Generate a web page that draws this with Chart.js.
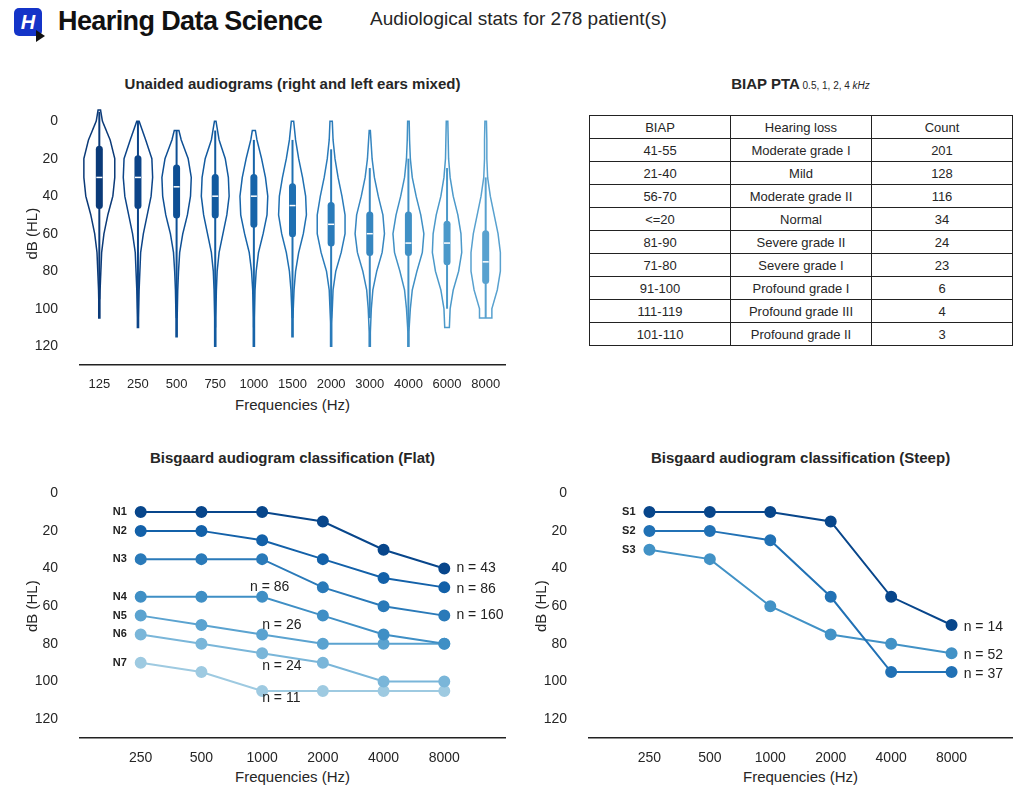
<!DOCTYPE html>
<html><head><meta charset="utf-8">
<script src="https://cdn.jsdelivr.net/npm/chart.js@4"></script>
<style>
body{margin:0;background:#fff;font-family:"Liberation Sans",Arial,sans-serif;color:#262626;}
.abs{position:absolute;}
.ttl{font-weight:bold;font-size:15px;text-align:center;}
.xt{font-size:15px;text-align:center;}
table{border-collapse:collapse;font-size:13px;table-layout:fixed;}
td{border:1px solid #222;text-align:center;height:22px;padding:0;}
</style></head><body>
<div class="abs" style="left:14px;top:8px;width:28px;height:28px;background:#1434c8;border-radius:5px;color:#fff;font-weight:900;font-size:20px;text-align:center;line-height:28px;font-style:italic">H</div>
<div class="abs" style="left:36px;top:30px;width:0;height:0;border-left:9px solid #111;border-top:6px solid transparent;border-bottom:6px solid transparent"></div>
<div class="abs" style="left:58px;top:6px;font-size:27px;font-weight:900;letter-spacing:-0.6px;color:#111">Hearing Data Science</div>
<div class="abs" style="left:370px;top:8px;font-size:19px">Audiological stats for 278 patient(s)</div>

<div class="abs ttl" style="left:80px;width:425px;top:75px">Unaided audiograms (right and left ears mixed)</div>
<div class="abs ttl" style="left:589px;width:423px;top:75px">BIAP PTA<span style="font-weight:normal;font-size:10px"> 0.5, 1, 2, 4 <i>kHz</i></span></div>
<div class="abs ttl" style="left:80px;width:425px;top:449px">Bisgaard audiogram classification (Flat)</div>
<div class="abs ttl" style="left:589px;width:423px;top:449px">Bisgaard audiogram classification (Steep)</div>
<div class="abs xt" style="left:80px;width:425px;top:396px">Frequencies (Hz)</div>
<div class="abs xt" style="left:80px;width:425px;top:768px">Frequencies (Hz)</div>
<div class="abs xt" style="left:589px;width:423px;top:768px">Frequencies (Hz)</div>

<table class="abs" id="tbl" style="left:589px;top:115px;width:424px"></table>

<div class="abs" style="left:20px;top:80px;width:495px;height:329px"><canvas id="c1"></canvas></div>
<div class="abs" style="left:20px;top:452px;width:495px;height:330px"><canvas id="c2"></canvas></div>
<div class="abs" style="left:529px;top:452px;width:493px;height:330px"><canvas id="c3"></canvas></div>
<script>
// ---- violin data
const freqs = ['125','250','500','750','1000','1500','2000','3000','4000','6000','8000'];
const vTop = [-6,0,5,0,5,0,0,5,0,0,0];
const vBottom = [105,110,115,120,120,115,120,120,120,110,105];
const wLow = [-5,0,5,5,10,10,15,25,20,25,30];
const wHigh = [95,100,105,110,110,105,105,105,110,100,105];
const q1 = [15,20,25,30,30,35,45,50,50,55,60];
const med = [30,30,35,40,40,45,55,60,65,65,75];
const q3 = [45,45,50,50,55,60,65,70,70,75,85];
const levels = [-10,0,10,20,30,40,50,60,70,80,90,100,110,120];
const dens = [
 [0,.08,.28,.40,.40,.35,.22,.12,.06,.04,.02,.01,0,0],
 [0,.03,.2,.36,.38,.34,.24,.14,.07,.05,.03,.02,.01,0],
 [0,0,.12,.30,.38,.36,.28,.16,.08,.05,.03,.02,.01,0],
 [0,.02,.10,.26,.34,.36,.30,.20,.10,.05,.03,.02,.01,0],
 [0,0,.08,.2,.3,.36,.34,.24,.12,.06,.03,.02,.01,0],
 [0,.03,.08,.16,.26,.34,.36,.28,.16,.08,.04,.02,.01,0],
 [0,.03,.05,.10,.18,.28,.36,.36,.26,.12,.05,.03,.01,0],
 [0,0,.03,.06,.12,.22,.34,.38,.32,.18,.08,.04,.02,0],
 [0,.02,.03,.05,.10,.20,.32,.40,.36,.22,.10,.05,.02,0],
 [0,.02,.03,.04,.08,.16,.28,.36,.38,.30,.16,.08,.06,0],
 [0,.02,.03,.03,.05,.12,.22,.32,.38,.38,.30,.16,.16,0]
];
const vColors = ['#0b3a78','#0c4488','#0e4f94','#125a9f','#1764a9','#1f70b2','#2a7bba','#3686c0','#4090c5','#4b99ca','#58a1cf'];
const yTicks = [0,20,40,60,80,100,120];

// ---- BIAP table
const biap = ['41-55','21-40','56-70','<=20','81-90','71-80','91-100','111-119','101-110'];
const loss = ['Moderate grade I','Mild','Moderate grade II','Normal','Severe grade II','Severe grade I','Profound grade I','Profound grade III','Profound grade II'];
const counts = [201,128,116,34,24,23,6,4,3];

// ---- Bisgaard
const bFreqs = ['250','500','1000','2000','4000','8000'];
const flatNames = ['N1','N2','N3','N4','N5','N6','N7'];
const flat = [
 [10,10,10,15,30,40],[20,20,25,35,45,50],[35,35,35,50,60,65],[55,55,55,65,75,80],
 [65,70,75,80,80,80],[75,80,85,90,100,100],[90,95,105,105,105,105]];
const flatColors = ['#08468b','#1361a9','#2a7ab9','#3f8fc5','#5ba3d0','#7ab6d9','#9ecae1'];
const flatN = ['n = 43','n = 86','n = 160','n = 86','n = 26','n = 24','n = 11'];
const flatNPos = [[5.2,40],[5.2,51],[5.2,65],[1.8,50],[2,70],[2,92],[2,109]];
const steepNames = ['S1','S2','S3'];
const steep = [[10,10,10,15,55,70],[20,20,25,55,95,95],[30,35,60,75,80,85]];
const steepColors = ['#08468b','#2171b5','#4292c6'];
const steepN = ['n = 14','n = 37','n = 52'];
const steepNPos = [[5.2,71],[5.2,96],[5.2,86]];

let tb = '<tr><td>BIAP</td><td>Hearing loss</td><td>Count</td></tr>';
biap.forEach((b,i)=>{ tb += '<tr><td>'+b.replace('<','&lt;')+'</td><td>'+loss[i]+'</td><td>'+counts[i]+'</td></tr>'; });
document.getElementById('tbl').innerHTML = tb;

Chart.defaults.font.family = '"Liberation Sans", Arial, sans-serif';
Chart.defaults.color = '#262626';
Chart.defaults.animation = false;

function yAxis(){
  return {reverse:true,min:-10,max:130,grid:{display:false},border:{display:false},
    afterBuildTicks:s=>{ s.ticks = yTicks.map(v=>({value:v})); },
    ticks:{font:{size:14},padding:14},
    title:{display:true,text:'dB (HL)',font:{size:15}},
    afterFit:s=>{s.width=60;}};
}

const violinPlugin = {
  id:'violin',
  afterDatasetsDraw(chart){
    const ctx = chart.ctx, xs = chart.scales.x, ys = chart.scales.y;
    const cw = xs.getPixelForValue(1) - xs.getPixelForValue(0);
    freqs.forEach((f,i)=>{
      const cx = xs.getPixelForValue(i);
      const pts = [];
      for(let d=vTop[i]; d<=vBottom[i]; d+=1){
        let k = Math.min(levels.length-2, Math.max(0, Math.floor((d+10)/10)));
        const t = (d-levels[k])/10;
        const w = (dens[i][k]*(1-t)+dens[i][k+1]*t);
        pts.push([d, Math.max(w,0.015)*cw]);
      }
      ctx.save();
      ctx.strokeStyle = vColors[i]; ctx.lineWidth = 1.5;
      ctx.beginPath();
      pts.forEach((p,j)=>{ const y=ys.getPixelForValue(p[0]); j?ctx.lineTo(cx+p[1],y):ctx.moveTo(cx+p[1],y); });
      for(let j=pts.length-1;j>=0;j--) ctx.lineTo(cx-pts[j][1], ys.getPixelForValue(pts[j][0]));
      ctx.closePath(); ctx.stroke();
      ctx.lineWidth = 2; ctx.beginPath();
      ctx.moveTo(cx, ys.getPixelForValue(wLow[i])); ctx.lineTo(cx, ys.getPixelForValue(wHigh[i])); ctx.stroke();
      ctx.lineWidth = 7; ctx.lineCap='round'; ctx.beginPath();
      ctx.moveTo(cx, ys.getPixelForValue(q1[i])); ctx.lineTo(cx, ys.getPixelForValue(q3[i])); ctx.stroke();
      ctx.strokeStyle='#fff'; ctx.lineWidth=1.5; ctx.lineCap='butt'; ctx.beginPath();
      ctx.moveTo(cx-3, ys.getPixelForValue(med[i])); ctx.lineTo(cx+3, ys.getPixelForValue(med[i])); ctx.stroke();
      ctx.restore();
    });
  }
};

new Chart(document.getElementById('c1'), {
  type:'bar',
  data:{labels:freqs, datasets:[{data:freqs.map(()=>null)}]},
  options:{responsive:true,maintainAspectRatio:false,
    layout:{padding:{top:5,right:10}},
    plugins:{legend:{display:false},tooltip:{enabled:false}},
    scales:{
      x:{grid:{display:false},border:{color:'#222',width:1.5},ticks:{font:{size:13},padding:4},
         afterFit:s=>{s.height=44;}},
      y:yAxis()}},
  plugins:[violinPlugin]
});

function labelPlugin(names, series, nText, nPos){
  return {id:'lbl',afterDatasetsDraw(chart){
    const ctx=chart.ctx, xs=chart.scales.x, ys=chart.scales.y;
    ctx.save(); ctx.fillStyle='#222'; ctx.textBaseline='middle';
    ctx.font='bold 11px "Liberation Sans", Arial'; ctx.textAlign='right';
    names.forEach((n,i)=>ctx.fillText(n, xs.getPixelForValue(-0.23), ys.getPixelForValue(series[i][0])));
    ctx.font='14px "Liberation Sans", Arial'; ctx.textAlign='left';
    nText.forEach((t,i)=>ctx.fillText(t, xs.getPixelForValue(nPos[i][0]), ys.getPixelForValue(nPos[i][1])));
    ctx.restore();
  }};
}

function bisgaard(id, names, series, colors, nText, nPos){
  new Chart(document.getElementById(id), {
    type:'line',
    data:{datasets: series.map((s,i)=>({label:names[i],data:s.map((v,j)=>({x:j,y:v})),
      borderColor:colors[i],backgroundColor:colors[i],borderWidth:2,pointRadius:5,pointHoverRadius:5}))},
    options:{responsive:true,maintainAspectRatio:false,
      layout:{padding:{top:5,right:10}},
      plugins:{legend:{display:false},tooltip:{enabled:false}},
      scales:{
        x:{type:'linear',min:-1,max:6,grid:{display:false},border:{color:'#222',width:1.5},
           ticks:{stepSize:1,font:{size:14},padding:4,callback:v=>bFreqs[v]||''},
           afterFit:s=>{s.height=44;}},
        y:yAxis()}},
    plugins:[labelPlugin(names, series, nText, nPos)]
  });
}
bisgaard('c2', flatNames, flat, flatColors, flatN, flatNPos);
bisgaard('c3', steepNames, steep, steepColors, steepN, steepNPos);
</script>
</body></html>
